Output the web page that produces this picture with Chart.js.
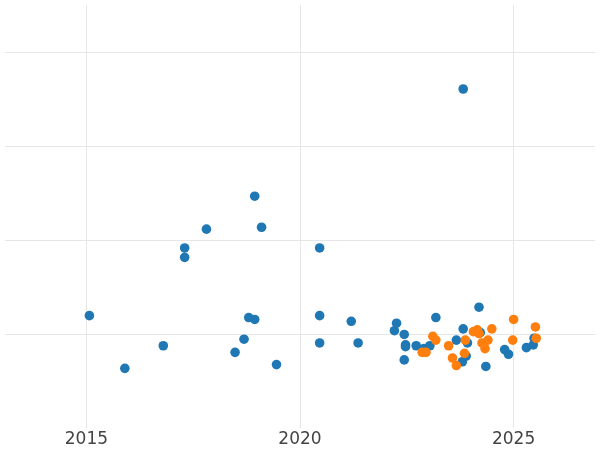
<!DOCTYPE html>
<html>
<head>
<meta charset="utf-8">
<script src="https://cdn.jsdelivr.net/npm/chart.js@4"></script>
<style>
  html, body { margin: 0; padding: 0; background: #fff; }
  #wrap { width: 600px; height: 450px; }
</style>
</head>
<body>
<div id="wrap"><canvas id="chart"></canvas></div>
<script>
const blueX = [2015.07, 2015.90, 2016.80, 2017.30, 2017.30, 2017.81, 2018.48, 2018.69, 2018.80, 2018.94,
  2018.94, 2019.10, 2019.45, 2020.46, 2020.46, 2020.46, 2021.20, 2021.36, 2023.82, 2022.21,
  2022.26, 2022.44, 2022.47, 2022.47, 2022.44, 2022.72, 2022.90, 2023.04, 2023.18, 2023.66,
  2023.82, 2023.80, 2023.89, 2023.92, 2024.19, 2024.22, 2024.35, 2024.79, 2024.88, 2025.30,
  2025.46, 2025.48];
const blueY = [0.20, -0.36, -0.12, 0.92, 0.82, 1.12, -0.19, -0.05, 0.18, 1.47,
  0.16, 1.14, -0.32, 0.92, 0.20, -0.09, 0.14, -0.09, 2.61, 0.04,
  0.12, 0.00, -0.11, -0.13, -0.27, -0.12, -0.15, -0.12, 0.18, -0.06,
  0.06, -0.29, -0.23, -0.09, 0.29, 0.02, -0.34, -0.16, -0.21, -0.14,
  -0.11, -0.04];
const orangeX = [2022.86, 2022.95, 2023.11, 2023.18, 2023.48, 2023.57, 2023.66, 2023.85, 2023.87, 2024.06,
  2024.15, 2024.19, 2024.26, 2024.33, 2024.40, 2024.49, 2025.00, 2024.98, 2025.51, 2025.53];
const orangeY = [-0.19, -0.19, -0.02, -0.06, -0.12, -0.25, -0.33, -0.20, -0.06, 0.03,
  0.05, 0.01, -0.09, -0.15, -0.06, 0.06, 0.16, -0.06, 0.08, -0.04];
const xTicks = [2015, 2020, 2025];
const yTicks = [0, 1, 2, 3];

const pts = (xs, ys) => xs.map((x, i) => ({ x, y: ys[i] }));

new Chart(document.getElementById("chart"), {
  type: "scatter",
  data: {
    datasets: [
      { data: pts(blueX, blueY), backgroundColor: "#1f77b4", borderWidth: 0, pointRadius: 4.8, order: 2 },
      { data: pts(orangeX, orangeY), backgroundColor: "#ff7f0e", borderWidth: 0, pointRadius: 4.8, order: 1 },
    ],
  },
  options: {
    responsive: true,
    maintainAspectRatio: false,
    animation: false,
    layout: { padding: { left: -5, right: -5, top: -5, bottom: -2 } },
    plugins: { legend: { display: false }, tooltip: { enabled: false } },
    scales: {
      x: {
        type: "linear",
        min: 2013.09,
        max: 2026.91,
        afterBuildTicks: (s) => { s.ticks = xTicks.map((v) => ({ value: v })); },
        ticks: { color: "#444", font: { family: "DejaVu Sans", size: 17 }, padding: 2, callback: (v) => String(v) },
        grid: { color: "#e6e6e6", drawTicks: false },
        border: { display: false },
      },
      y: {
        min: -0.99,
        max: 3.505,
        afterBuildTicks: (s) => { s.ticks = yTicks.map((v) => ({ value: v })); },
        ticks: { display: false },
        grid: { color: "#e6e6e6", drawTicks: false },
        border: { display: false },
        afterFit: (s) => { s.width = 0; },
      },
    },
  },
});
</script>
</body>
</html>
